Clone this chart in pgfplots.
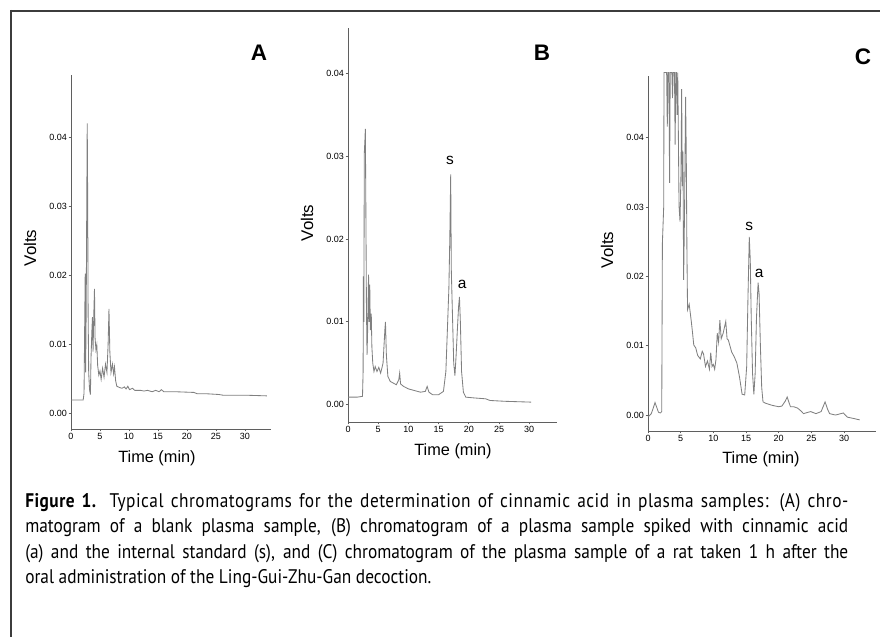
\documentclass[border=0pt]{standalone}
\usepackage{fontspec}
\setmainfont{Liberation Sans}
\newfontfamily\capfont[FakeStretch=0.88]{PT Sans}
\usepackage{pgfplots}
\pgfplotsset{compat=1.18}

\definecolor{trace}{RGB}{128,128,128}
\definecolor{axisgray}{RGB}{95,95,95}
\definecolor{framegray}{RGB}{60,60,60}

\pgfplotsset{
  chrom/.style={
    scale only axis,
    axis lines=left,
    axis line style={-, draw=axisgray, line width=0.6pt},
    tick align=outside,
    major tick length=0.6mm,
    tick style={draw=axisgray, line width=0.5pt},
    xmin=0,
    xtick={0,5,10,15,20,25,30},
    ytick={0,0.01,0.02,0.03,0.04},
    scaled y ticks=false,
    /pgf/number format/assume math mode=true,
    yticklabel style={/pgf/number format/.cd, fixed, fixed zerofill, precision=2},
    tick label style={font=\fontsize{6.4}{7}\selectfont, inner sep=1pt},
  },
  tr/.style={draw=trace, line width=0.6pt, mark=none},
}
\tikzset{peak/.style={font=\fontsize{11}{11}\selectfont}}

\begin{document}
\begin{tikzpicture}[x=0.25mm, y=0.25mm]
\path[use as bounding box] (0,0) rectangle (880,637);
\draw[framegray, line width=0.5mm] (10,626) -- (880,626);
\draw[framegray, line width=0.5mm] (11,627) -- (11,0);

% ---- A: blank plasma
\begin{axis}[chrom, at={(17.75mm,52mm)}, anchor=south west,
  width=50mm, height=88.5mm, xmax=34.5, ymin=-0.0022, ymax=0.0491]
\addplot[tr] table {
0 0.0020
2.1 0.0020
2.25 0.0030
2.35 0.0120
2.45 0.0203
2.52 0.0060
2.62 0.0150
2.72 0.0306
2.80 0.0421
2.88 0.0306
2.95 0.0150
3.05 0.0060
3.2 0.0035
3.35 0.0028
3.45 0.0080
3.6 0.0120
3.7 0.0140
3.8 0.0090
3.95 0.0150
4.05 0.0181
4.15 0.0110
4.3 0.0093
4.45 0.0100
4.6 0.0070
4.8 0.0056
5.0 0.0062
5.2 0.0050
5.45 0.0066
5.7 0.0053
5.95 0.0072
6.2 0.0060
6.4 0.0100
6.55 0.0152
6.7 0.0090
6.9 0.0060
7.15 0.0072
7.35 0.0058
7.5 0.0068
7.7 0.0048
7.9 0.0040
8.4 0.0038
8.8 0.0037
9.2 0.0039
9.5 0.0036
9.8 0.0040
10.1 0.0035
10.6 0.0037
11.0 0.0034
12.0 0.0034
12.6 0.0033
13.2 0.0034
14.0 0.0032
14.6 0.0034
15.2 0.0032
15.6 0.0035
16.0 0.0032
18.0 0.0032
21.2 0.0031
21.8 0.0029
23.5 0.0029
25.5 0.0028
26.2 0.0027
30.0 0.0027
33.8 0.0026
};
\end{axis}

% ---- B: spiked plasma
\begin{axis}[chrom, at={(87mm,53.75mm)}, anchor=south west,
  width=52.25mm, height=98.5mm, xmax=34.6, ymin=-0.0021, ymax=0.0455]
\addplot[tr] table {
0 0.0009
1.5 0.0009
2.4 0.0010
2.5 0.0040
2.55 0.0155
2.62 0.0100
2.7 0.0304
2.8 0.0320
2.87 0.0333
2.95 0.0244
3.05 0.0120
3.15 0.0060
3.25 0.0090
3.4 0.0157
3.5 0.0100
3.6 0.0145
3.7 0.0090
3.85 0.0110
3.95 0.0070
4.1 0.0050
4.3 0.0040
4.5 0.0046
4.8 0.0040
5.1 0.0045
5.4 0.0038
5.8 0.0050
6.1 0.0090
6.2 0.0100
6.35 0.0060
6.6 0.0034
7.0 0.0028
7.5 0.0026
8.0 0.0024
8.4 0.0030
8.55 0.0038
8.7 0.0025
9.2 0.0022
10 0.0019
11 0.0017
12 0.0015
12.8 0.0016
13.1 0.0022
13.4 0.0015
14.0 0.0012
15.0 0.0012
15.8 0.0016
16.2 0.0040
16.5 0.0100
16.7 0.0141
16.85 0.0200
17.0 0.0278
17.1 0.0163
17.25 0.0120
17.5 0.0050
17.7 0.0035
17.9 0.0060
18.1 0.0090
18.3 0.0118
18.45 0.0130
18.6 0.0100
18.8 0.0040
19.1 0.0015
19.5 0.0009
21 0.0008
22.8 0.0007
23.5 0.0005
26 0.0004
30.3 0.0003
};
\node[peak] at (axis cs:16.9,0.0295) {s};
\node[peak] at (axis cs:18.9,0.0145) {a};
\end{axis}

% ---- C: rat plasma 1 h after dosing (detector saturates at the top)
\begin{axis}[chrom, at={(162mm,51.5mm)}, anchor=south west,
  width=57mm, height=88.75mm, xmax=34.9, ymin=-0.0023, ymax=0.0489, clip=false]
\addplot[tr] table {
0 -0.0003
0.5 0.0002
0.8 0.0010
1.07 0.0018
1.3 0.0012
1.6 0.0004
1.9 0.0003
2.1 0.0005
2.2 0.0248
2.4 0.0300
2.45 0.0494
2.85 0.0494
2.95 0.0416
3.05 0.0494
3.2 0.0494
3.3 0.0335
3.4 0.0494
3.65 0.0494
3.75 0.0457
3.85 0.0494
4.05 0.0494
4.15 0.0390
4.25 0.0494
4.35 0.0494
4.45 0.0433
4.55 0.0494
4.65 0.0400
4.75 0.0301
4.9 0.0279
5.05 0.0350
5.15 0.0470
5.25 0.0330
5.35 0.0380
5.45 0.0195
5.6 0.0300
5.75 0.0459
5.85 0.0382
5.95 0.0243
6.05 0.0152
6.3 0.0160
6.6 0.0137
6.8 0.0120
7.0 0.0101
7.3 0.0097
7.6 0.0086
8.0 0.0081
8.3 0.0092
8.5 0.0088
8.8 0.0070
9.1 0.0078
9.4 0.0066
9.6 0.0090
9.8 0.0070
10.0 0.0073
10.2 0.0066
10.4 0.0080
10.6 0.0118
10.8 0.0105
11.0 0.0137
11.2 0.0110
11.5 0.0118
11.9 0.0135
12.1 0.0110
12.3 0.0108
12.8 0.0091
13.2 0.0084
13.6 0.0075
14.0 0.0055
14.4 0.0030
14.8 0.0029
15.1 0.0070
15.3 0.0170
15.5 0.0257
15.65 0.0224
15.8 0.0140
16.0 0.0060
16.2 0.0030
16.4 0.0060
16.6 0.0140
16.85 0.0191
17.0 0.0175
17.2 0.0100
17.4 0.0040
17.6 0.0019
18.0 0.0017
19.0 0.0014
20.0 0.0012
20.5 0.0013
21.0 0.0020
21.3 0.0026
21.8 0.0012
22.3 0.0012
22.9 0.0010
23.4 0.0006
23.8 0.0002
24.5 0.0004
24.9 0.0005
25.7 0.0002
26.5 0.0005
27.1 0.0019
27.5 0.0008
27.8 0.0002
28.7 0.0000
29.5 0.0002
29.9 0.0003
30.5 -0.0003
31.5 -0.0005
32.4 -0.0007
};
\node[peak] at (axis cs:15.5,0.0272) {s};
\node[peak] at (axis cs:17.0,0.0204) {a};
\end{axis}

% panel letters and axis titles
\node[font=\bfseries\fontsize{16}{16}\selectfont] at (259,584) {A};
\node[font=\bfseries\fontsize{16}{16}\selectfont] at (542,584) {B};
\node[font=\bfseries\fontsize{16}{16}\selectfont] at (863,580) {C};
\node[rotate=90, font=\fontsize{12}{12}\selectfont] at (30,389) {Volts};
\node[rotate=90, font=\fontsize{12}{12}\selectfont] at (307,414) {Volts};
\node[rotate=90, font=\fontsize{12}{12}\selectfont] at (607,387) {Volts};
\node[font=\fontsize{11.6}{12}\selectfont] at (157,179) {Time (min)};
\node[font=\fontsize{11.6}{12}\selectfont] at (453,186) {Time (min)};
\node[font=\fontsize{11.6}{12}\selectfont] at (761,178) {Time (min)};

% caption
\node[anchor=north west, inner sep=0pt, align=left,
  font=\capfont\fontsize{14}{18.1}\selectfont] at (25,144) {%
\makebox[205.75mm][s]{\addfontfeature{LetterSpace=2.5}\textbf{Figure 1.} Typical chromatograms for the determination of cinnamic acid in plasma samples: (A) chro-}\\
\makebox[205.75mm][s]{matogram of a blank plasma sample, (B) chromatogram of a plasma sample spiked with cinnamic acid}\\
\makebox[205.75mm][s]{(a) and the internal standard (s), and (C) chromatogram of the plasma sample of a rat taken 1 h after the}\\
oral administration of the Ling-Gui-Zhu-Gan decoction.};
\end{tikzpicture}
\end{document}
